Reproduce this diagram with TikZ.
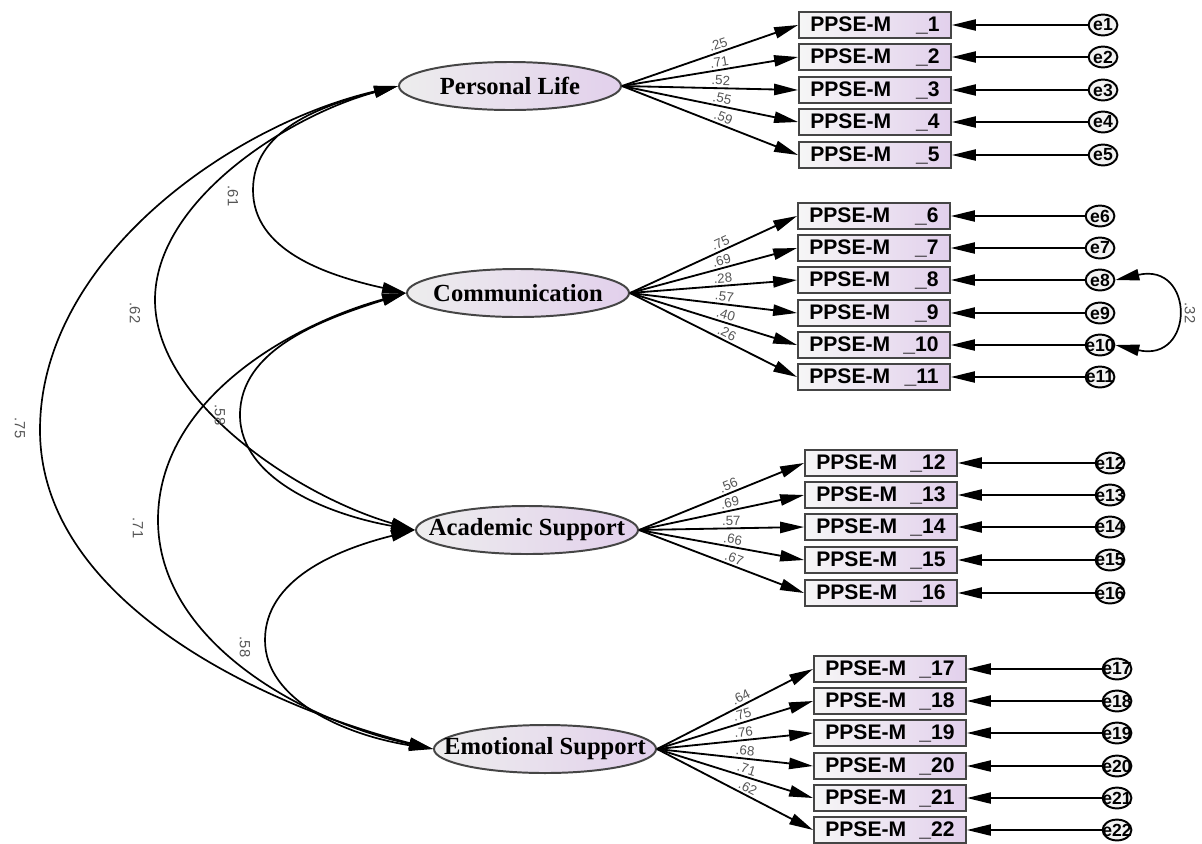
\documentclass[tikz,border=0pt]{standalone}
\usepackage{fontspec}
\setmainfont{Liberation Serif}
\setsansfont{Liberation Sans}
\usetikzlibrary{positioning,arrows.meta,shapes.geometric}

\definecolor{boxgray}{HTML}{EDEDED}
\definecolor{lilac}{HTML}{E2D0EC}
\definecolor{edgegray}{HTML}{454545}
\definecolor{numgray}{HTML}{555555}

\begin{document}
\begin{tikzpicture}[
  x=0.025cm, y=-0.025cm,
  latent/.style={ellipse, draw=edgegray, line width=1.4pt,
                 left color=boxgray, right color=lilac,
                 minimum width=5.55cm, minimum height=1.2cm, inner sep=0pt,
                 font=\fontsize{17.5}{19}\selectfont\bfseries},
  ind/.style={draw=edgegray, line width=1.5pt,
              left color=boxgray!50, right color=lilac,
              minimum height=0.65cm, inner xsep=8pt, inner ysep=1pt,
              text width=92pt, align=left,
              font=\sffamily\bfseries\fontsize{15}{16}\selectfont},
  err/.style={ellipse, draw=black, line width=1.4pt, fill=gray!10,
              minimum width=0.72cm, minimum height=0.52cm, inner sep=0pt,
              font=\sffamily\bfseries\fontsize{12.5}{13}\selectfont},
  load/.style={sloped, pos=0.56, above=1pt, inner sep=0.5pt, text=numgray,
               font=\sffamily\fontsize{9.5}{10}\selectfont},
  clab/.style={rotate=-90, inner sep=1pt, text=numgray,
               font=\sffamily\fontsize{10.5}{12}\selectfont},
  arr/.style ={-{Triangle[length=17pt,width=8pt]}, line width=1.3pt},
  earr/.style={-{Triangle[length=17pt,width=8pt]}, line width=1pt},
  cov/.style ={{Triangle[length=17pt,width=8pt]}-{Triangle[length=17pt,width=8pt]},
               line width=1.2pt},
]
\useasboundingbox (0,0) rectangle (1202,843);

% factors
\node[latent] (pl)   at (510,86)  {\makebox[0pt]{Personal Life}};
\node[latent] (com)  at (518,293) {\makebox[0pt]{Communication}};
\node[latent] (acad) at (527,530) {\makebox[0pt]{Academic Support}};
\node[latent] (emo)  at (545,749) {\makebox[0pt]{Emotional Support}};

% items, errors, loadings
\foreach \n/\y/\ld in {1/25/.25, 2/57/.71, 3/90/.52, 4/122/.55, 5/155/.59}{
  \node[ind] (x\n) at (875,\y) {PPSE-M\hfill\_\n};
  \node[err] (e\n) at (1103,\y) {\makebox[0pt]{e\n}};
  \draw[arr] (pl.east) -- node[load] (ld\n) {\ld} (x\n.west);
  \draw[earr] (e\n) -- (x\n);
}
\foreach \n/\y/\ld in {6/216/.75, 7/248/.69, 8/280/.28, 9/313/.57, 10/345/.40, 11/377/.26}{
  \node[ind] (x\n) at (874,\y) {PPSE-M\hfill\_\n};
  \node[err] (e\n) at (1100,\y) {\makebox[0pt]{e\n}};
  \draw[arr] (com.east) -- node[load] (ld\n) {\ld} (x\n.west);
  \draw[earr] (e\n) -- (x\n);
}
\foreach \n/\y/\ld in {12/463/.56, 13/495/.69, 14/527/.57, 15/560/.66, 16/593/.67}{
  \node[ind] (x\n) at (881,\y) {PPSE-M\hfill\_\n};
  \node[err] (e\n) at (1110,\y) {\makebox[0pt]{e\n}};
  \draw[arr] (acad.east) -- node[load] (ld\n) {\ld} (x\n.west);
  \draw[earr] (e\n) -- (x\n);
}
\foreach \n/\y/\ld in {17/669/.64, 18/701/.75, 19/733/.76, 20/766/.68, 21/798/.71, 22/830/.62}{
  \node[ind] (x\n) at (890,\y) {PPSE-M\hfill\_\n};
  \node[err] (e\n) at (1117,\y) {\makebox[0pt]{e\n}};
  \draw[arr] (emo.east) -- node[load] (ld\n) {\ld} (x\n.west);
  \draw[earr] (e\n) -- (x\n);
}

% covariances
\draw[cov] (pl.west) .. controls (320,106) and (253,130) .. (253,190)
  .. controls (253,250) and (325,275) .. (com.west);
\draw[cov] (pl.west) .. controls (290,115) and (155,200) .. (155,300)
  .. controls (155,400) and (295,495) .. (acad.west);
\draw[cov] (pl.west) .. controls (230,125) and (40,260) .. (40,430)
  .. controls (40,600) and (260,705) .. (emo.west);
\draw[cov] (com.west) .. controls (320,320) and (240,350) .. (240,415)
  .. controls (240,480) and (330,515) .. (acad.west);
\draw[cov] (com.west) .. controls (290,325) and (158,400) .. (158,520)
  .. controls (158,640) and (300,720) .. (emo.west);
\draw[cov] (acad.west) .. controls (335,550) and (265,580) .. (265,640)
  .. controls (265,700) and (345,735) .. (emo.west);
\draw[cov] (e8.east) .. controls (1195,262) and (1195,363) .. (e10.east);

\node[clab] (c1) at (233,196) {.61};
\node[clab] (c2) at (135,313) {.62};
\node[clab] (c3) at (20,428)  {.75};
\node[clab] (c4) at (220,415) {.58};
\node[clab] (c5) at (138,528) {.71};
\node[clab] (c6) at (245,647) {.58};
\node[clab] (c7) at (1190,313) {.32};

\end{tikzpicture}
\end{document}
